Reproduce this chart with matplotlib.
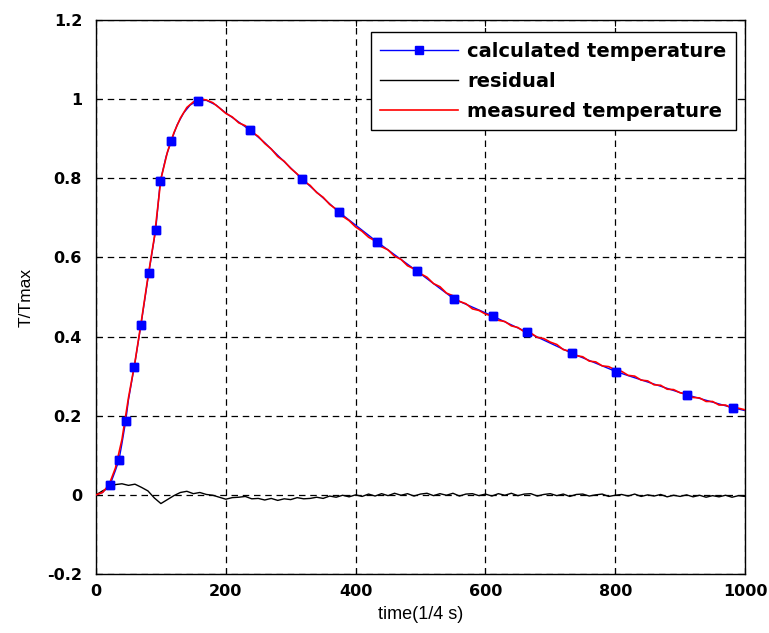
import matplotlib
matplotlib.use("Agg")
import matplotlib.pyplot as plt

# ---- data ----
# calculated temperature (model curve) and the samples that carry a marker
calc_t = [0, 10, 21.6, 30, 35.4, 40, 45.8, 50, 59, 69.3, 81.2, 92, 99, 108, 116, 125,
          135, 145, 156.7, 170, 185, 200, 215, 237.8, 260, 285, 317, 374, 432.5, 494,
          551.6, 611, 664, 733, 802, 910, 981, 1000]
calc_T = [0.0, 0.006, 0.025, 0.062, 0.088, 0.13, 0.187, 0.24, 0.324, 0.43, 0.56, 0.67,
          0.792, 0.855, 0.895, 0.935, 0.965, 0.985, 0.996, 0.997, 0.985, 0.965, 0.948,
          0.921, 0.89, 0.85, 0.799, 0.715, 0.64, 0.566, 0.495, 0.452, 0.411, 0.358,
          0.311, 0.253, 0.22, 0.213]
marker_t = [21.6, 35.4, 45.8, 59, 69.3, 81.2, 92, 99, 116, 156.7, 237.8, 317, 374,
            432.5, 494, 551.6, 611, 664, 733, 802, 910, 981]

meas_t = list(range(0, 1001, 10))
meas_T = [0.000, 0.006, 0.025, 0.068, 0.140, 0.245, 0.335, 0.440, 0.550, 0.652,
          0.798, 0.866, 0.915, 0.952, 0.979, 0.993, 1.000, 0.998, 0.991, 0.978,
          0.964, 0.955, 0.940, 0.933, 0.917, 0.906, 0.888, 0.874, 0.855, 0.843,
          0.825, 0.811, 0.793, 0.782, 0.764, 0.752, 0.734, 0.722, 0.704, 0.693,
          0.677, 0.666, 0.651, 0.642, 0.627, 0.619, 0.603, 0.595, 0.579, 0.571,
          0.559, 0.550, 0.534, 0.526, 0.510, 0.503, 0.489, 0.483, 0.470, 0.466,
          0.457, 0.452, 0.441, 0.438, 0.427, 0.423, 0.412, 0.409, 0.398, 0.395,
          0.386, 0.380, 0.367, 0.363, 0.352, 0.349, 0.338, 0.336, 0.326, 0.324,
          0.316, 0.312, 0.302, 0.300, 0.290, 0.288, 0.278, 0.277, 0.267, 0.266,
          0.258, 0.255, 0.246, 0.245, 0.236, 0.236, 0.227, 0.227, 0.219, 0.219,
          0.215]

res_t = list(range(0, 1001, 10))
res_T = [0.000, 0.010, 0.018, 0.026, 0.028, 0.024, 0.027, 0.019, 0.010, -0.008,
         -0.022, -0.012, -0.002, 0.006, 0.009, 0.003, 0.006, 0.001, -0.001, -0.006,
         -0.011, -0.007, -0.006, -0.004, -0.010, -0.009, -0.013, -0.009, -0.014, -0.010,
         -0.012, -0.007, -0.010, -0.009, -0.006, -0.009, -0.003, -0.006, -0.001, -0.005,
         0.000, -0.004, 0.002, -0.003, 0.003, -0.002, 0.004, -0.001, 0.003, -0.003,
         0.002, 0.004, -0.002, 0.003, -0.001, 0.004, -0.003, 0.002, 0.003, -0.002,
         0.002, -0.003, 0.003, -0.001, 0.004, -0.002, 0.002, 0.003, -0.003, 0.001,
         0.003, -0.002, 0.002, -0.004, 0.001, 0.002, -0.003, 0.000, 0.002, -0.004,
         -0.001, 0.001, -0.003, 0.002, -0.004, 0.000, -0.003, 0.001, -0.005, -0.001,
         -0.004, 0.000, -0.005, -0.001, -0.006, -0.002, -0.005, -0.001, -0.006, -0.002,
         -0.004]

xticks = [0, 200, 400, 600, 800, 1000]
yticks = [-0.2, 0, 0.2, 0.4, 0.6, 0.8, 1, 1.2]
ytick_labels = ["-0.2", "0", "0.2", "0.4", "0.6", "0.8", "1", "1.2"]

plt.rcParams['font.family'] = ['Liberation Sans', 'DejaVu Sans']

fig = plt.figure(figsize=(7.69, 6.33), dpi=100)
ax = fig.add_axes([96 / 769, 1 - 574 / 633, 649 / 769, 554 / 633])

mark_idx = [calc_t.index(t) for t in marker_t]
l1, = ax.plot(calc_t, calc_T, color='#0000ff', lw=1.0, marker='s', markersize=6,
              markevery=mark_idx, markeredgecolor='#0000ff', markerfacecolor='#0000ff',
              label='calculated temperature', zorder=3)
l2, = ax.plot(res_t, res_T, color='black', lw=1.0, label='residual', zorder=3)
l3, = ax.plot(meas_t, meas_T, color='#ff0000', lw=1.2, label='measured temperature', zorder=4)
ax.plot(calc_t, calc_T, linestyle='none', marker='s', markersize=6, markevery=mark_idx,
        color='#0000ff', zorder=5)

ax.set_xlim(0, 1000)
ax.set_ylim(-0.2, 1.2)
ax.set_xticks(xticks)
ax.set_yticks(yticks)
ax.set_yticklabels(ytick_labels)
ax.tick_params(direction='in', top=True, right=True, length=4, width=0.8)
ax.tick_params(axis='y', pad=10)
ax.tick_params(axis='x', pad=7)
tick_font = {'family': 'DejaVu Sans', 'weight': 'bold', 'size': 11.5}
for lab in ax.get_xticklabels() + ax.get_yticklabels():
    lab.set_fontproperties(tick_font)
ax.grid(True, color='black', linestyle=(0, (5.2, 3.8)), linewidth=0.9)
for s in ax.spines.values():
    s.set_linewidth(1.0)

ax.set_xlabel('time(1/4 s)', fontsize=13, labelpad=5)
ax.set_ylabel('T/Tmax', fontsize=12.5, labelpad=10)

leg = ax.legend(handles=[l1, l2, l3], loc='upper right', bbox_to_anchor=(0.986, 0.978),
                borderaxespad=0, fancybox=False, framealpha=1, edgecolor='black',
                prop={'family': 'DejaVu Sans', 'weight': 'bold', 'size': 14},
                handlelength=4.0, labelspacing=0.56, borderpad=0.5, handletextpad=0.45)
leg.get_frame().set_linewidth(1.0)

fig.savefig('out.png', dpi=100)
